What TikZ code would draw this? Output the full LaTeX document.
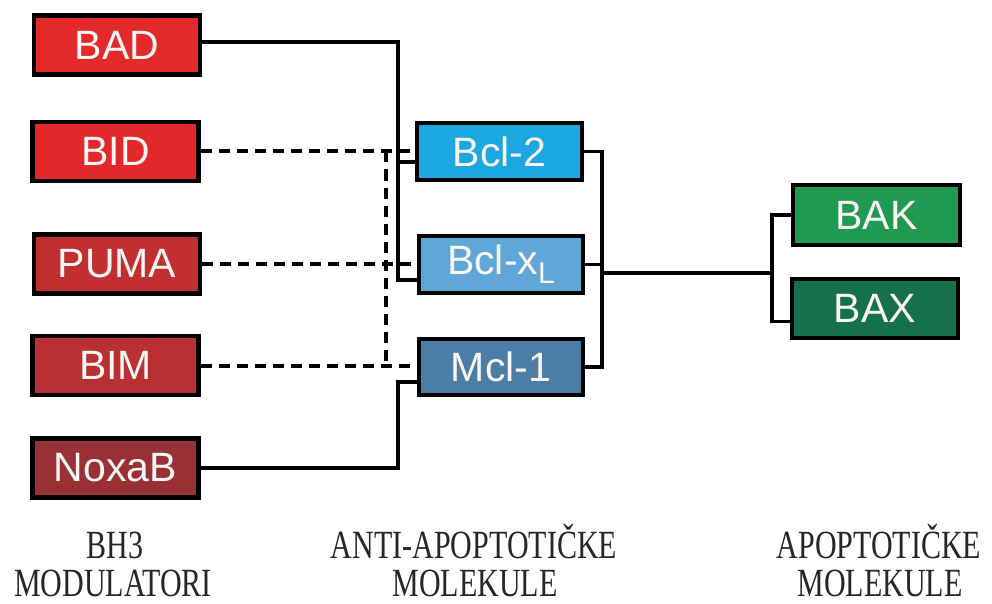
\documentclass[tikz,border=0pt]{standalone}
\usepackage{fontspec}
\setmainfont{Liberation Serif}
\newfontfamily\boxfont{Liberation Sans}
\usetikzlibrary{calc}
\definecolor{cBAD}{HTML}{E4292B}
\definecolor{cBID}{HTML}{E2282B}
\definecolor{cPUMA}{HTML}{C12F31}
\definecolor{cBIM}{HTML}{BA2F31}
\definecolor{cNOXA}{HTML}{993036}
\definecolor{cBCL}{HTML}{1BA7DF}
\definecolor{cBCLX}{HTML}{5EA7D6}
\definecolor{cMCL}{HTML}{4B7EA6}
\definecolor{cBAK}{HTML}{1F9A53}
\definecolor{cBAX}{HTML}{14714B}
\definecolor{boxtext}{HTML}{FBF6F4}
\tikzset{
  box/.style={draw=black, line width=4.5pt, inner sep=0pt, minimum width=166pt,
    minimum height=59pt, text=boxtext, font=\boxfont\fontsize{41}{44}\selectfont},
  conn/.style={draw=black, line width=3.5pt},
  dconn/.style={draw=black, line width=4pt, dash pattern=on 11pt off 7pt},
  lbl/.style={anchor=base, inner sep=0pt, text=black!85, font=\fontsize{40}{42}\selectfont}
}
\begin{document}
\begin{tikzpicture}[x=1pt,y=-1pt]
\useasboundingbox[fill=white] (0,0) rectangle (992,604);
% BH3 modulators
\node[box, fill=cBAD]  (bad)   at (117,45)    {BAD};
\node[box, fill=cBID]  (bid)   at (115.5,151.5) {BID};
\node[box, fill=cPUMA] (puma)  at (117,264)   {PUMA};
\node[box, fill=cBIM]  (bim)   at (115.5,365.5) {BIM};
\node[box, fill=cNOXA] (noxab) at (115.5,468) {NoxaB};
% anti-apoptotic
\node[box, fill=cBCL,  minimum width=165pt, minimum height=57pt] (bcl2)  at (499.5,151.5) {Bcl-2};
\node[box, fill=cBCLX, minimum width=164pt, minimum height=57pt] (bclxl) at (501,264.5) {Bcl-x\raisebox{-9pt}{\fontsize{30}{30}\selectfont L}};
\node[box, fill=cMCL,  minimum width=164pt, minimum height=56pt] (mcl1)  at (501,367) {Mcl-1};
% apoptotic
\node[box, fill=cBAK, minimum width=167pt, minimum height=60pt] (bak) at (876.5,215) {BAK};
\node[box, fill=cBAX, minimum width=166pt, minimum height=59pt] (bax) at (875,308.5) {BAX};
% helper coordinates
\coordinate (vs) at (398,0);
\coordinate (vd) at (386,0);
\coordinate (vr) at (602,0);
\coordinate (vg) at (772,0);
\coordinate (b2in) at ($(bcl2.west)+(0,10.5)$);
\coordinate (bxin) at ($(bclxl.west)+(0,15.5)$);
\coordinate (m1in) at ($(mcl1.west)+(0,15)$);
\coordinate (badout) at ($(bad.east)+(0,-3)$);
\coordinate (hub) at (602,273);
\coordinate (baxin) at ($(bax.west)+(0,13)$);
% solid connectors left
\draw[conn] (badout) -| (vs |- bxin) -- (bxin);
\draw[conn] (vs |- b2in) -- (b2in);
\draw[conn] (noxab.east) -| (vs |- m1in) -- (m1in);
% dashed connectors
\draw[dconn] (bid.east) -- (bcl2.west |- bid.east);
\draw[dconn] (puma.east) -- (bclxl.west |- puma.east);
\draw[dconn] (bim.east) -- (mcl1.west |- bim.east);
\draw[dconn] (vd |- bid.east) -- (vd |- bim.east);
% right side
\draw[conn] (bcl2.east) -| (vr |- mcl1.east) -- (mcl1.east);
\draw[conn] (bclxl.east) -- (bclxl.east -| vr);
\draw[conn] (hub) -- (vg |- hub);
\draw[conn] (bak.west) -| (vg |- baxin) -- (baxin);
% labels
\node[lbl] (l1a) at (115,558) {\scalebox{0.75}[1]{BH3}};
\node[lbl] (l1b) at (113,596) {\scalebox{0.75}[1]{MODULATORI}};
\node[lbl] (l2a) at (474,558) {\scalebox{0.75}[1]{ANTI-APOPTOTIČKE}};
\node[lbl] (l2b) at (475,596) {\scalebox{0.75}[1]{MOLEKULE}};
\node[lbl] (l3a) at (879,558) {\scalebox{0.75}[1]{APOPTOTIČKE}};
\node[lbl] (l3b) at (880,596) {\scalebox{0.75}[1]{MOLEKULE}};
\end{tikzpicture}
\end{document}
